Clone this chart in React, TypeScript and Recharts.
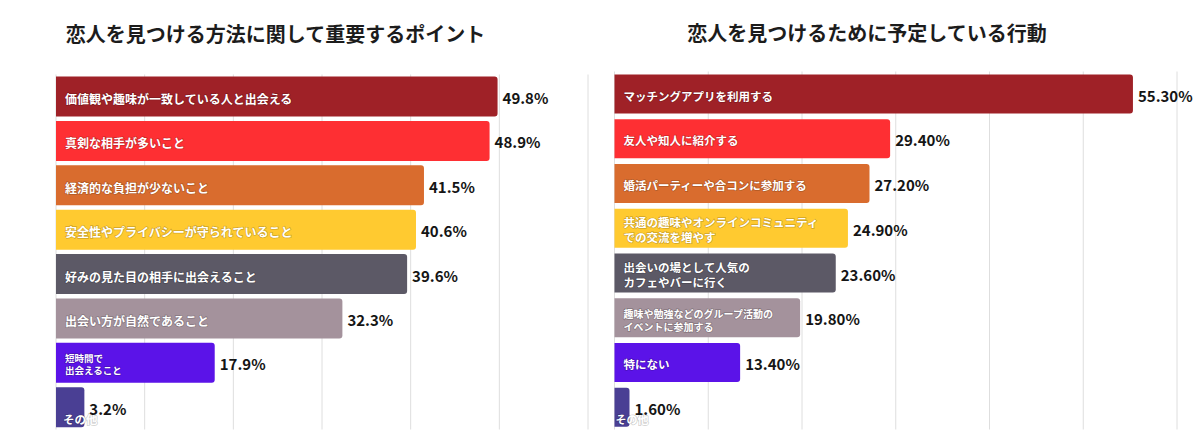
import { BarChart, Bar, XAxis, YAxis, CartesianGrid, Cell, LabelList } from 'recharts';

const leftTitle = '恋人を見つける方法に関して重要するポイント';
const leftCategories = [
  '価値観や趣味が一致している人と出会える',
  '真剣な相手が多いこと',
  '経済的な負担が少ないこと',
  '安全性やプライバシーが守られていること',
  '好みの見た目の相手に出会えること',
  '出会い方が自然であること',
  '短時間で\n出会えること',
  'その他',
];
const leftValues = [49.8, 48.9, 41.5, 40.6, 39.6, 32.3, 17.9, 3.2];

const rightTitle = '恋人を見つけるために予定している行動';
const rightCategories = [
  'マッチングアプリを利用する',
  '友人や知人に紹介する',
  '婚活パーティーや合コンに参加する',
  '共通の趣味やオンラインコミュニティ\nでの交流を増やす',
  '出会いの場として人気の\nカフェやバーに行く',
  '趣味や勉強などのグループ活動の\nイベントに参加する',
  '特にない',
  'その他',
];
const rightValues = [55.3, 29.4, 27.2, 24.9, 23.6, 19.8, 13.4, 1.6];

const gridTicks = [0, 10, 20, 30, 40, 50, 60];

const barColors = ['#9f2127', '#fe2f33', '#d96c2e', '#ffca30', '#5c5966', '#a4929c', '#5b13e8', '#4a3f94'];

// label font sizes (style only, kept apart from the data)
const leftLabelSizes = [12, 12, 12, 12, 12, 12, 9.5, 11.5];
const rightLabelSizes = [11.5, 11.5, 11.5, 11.5, 11.5, 10, 11.5, 11];

const FONT = "'Noto Sans CJK JP', 'Noto Sans', sans-serif";

const makeInsideLabel = (sizes: number[], smallPad: number) => (props: any) => {
  const { x, y, width, height, value, index } = props;
  const fs = sizes[index] ?? 12;
  const lines = String(value).split('\n');
  const longest = Math.max(...lines.map((l) => l.length));
  const fits = longest * fs + 12 < width;
  const common = {
    fill: '#fff',
    fontSize: fs,
    fontWeight: 700,
    stroke: 'rgba(0,0,0,0.2)',
    strokeWidth: 1.5,
    paintOrder: 'stroke' as any,
    dominantBaseline: 'central' as any,
  };
  if (!fits) {
    // label too long for the tiny bar: sits at the bar's bottom edge
    return (
      <text x={x + smallPad} y={y + height - 8} {...common}>
        {lines.join('')}
      </text>
    );
  }
  const cy = y + height / 2;
  const lh = fs * 1.3;
  return (
    <text x={x + 9} {...common}>
      {lines.map((l, i) => (
        <tspan key={i} x={x + 9} y={cy + 1.5 + (i - (lines.length - 1) / 2) * lh}>
          {l}
        </tspan>
      ))}
    </text>
  );
};

const makeValueLabel = (digits: number) => (props: any) => {
  const { x, y, width, height, value } = props;
  return (
    <text
      x={x + width + 5}
      y={y + height / 2 + 1}
      fill="#151515"
      fontSize={15}
      fontWeight={700}
      dominantBaseline="central"
    >
      {`${Number(value).toFixed(digits)}%`}
    </text>
  );
};

type PanelProps = {
  title: string;
  titleCenter: number;
  titleTop: number;
  categories: string[];
  values: number[];
  sizes: number[];
  smallPad: number;
  digits: number;
  left: number;
  margin: { top: number; right: number; bottom: number; left: number };
  barSize: number;
};

const Panel = ({ title, titleCenter, titleTop, categories, values, sizes, smallPad, digits, left, margin, barSize }: PanelProps) => {
  const data = categories.map((name, i) => ({ name, value: values[i] }));
  return (
    <div style={{ position: 'absolute', left, top: 0, width: 600, height: 440 }}>
      <div
        style={{
          position: 'absolute',
          left: titleCenter - 300,
          width: 600,
          top: titleTop,
          textAlign: 'center',
          fontSize: 20,
          fontWeight: 700,
          color: '#1c1c1c',
          whiteSpace: 'nowrap',
        }}
      >
        {title}
      </div>
      <BarChart width={600} height={440} data={data} layout="vertical" margin={margin}>
        <CartesianGrid horizontal={false} stroke="#dedede" />
        <XAxis type="number" domain={[0, 60]} ticks={gridTicks} hide />
        <YAxis type="category" dataKey="name" hide />
        <Bar dataKey="value" barSize={barSize} radius={[0, 3, 3, 0]} isAnimationActive={false}>
          {data.map((d, i) => (
            <Cell key={d.name} fill={barColors[i]} />
          ))}
          <LabelList dataKey="name" content={makeInsideLabel(sizes, smallPad)} />
          <LabelList dataKey="value" content={makeValueLabel(digits)} />
        </Bar>
      </BarChart>
    </div>
  );
};

export default function App() {
  return (
    <div style={{ position: 'absolute', left: 0, top: 0, width: 1200, height: 440, background: '#fff', fontFamily: FONT }}>
      <Panel
        title={leftTitle}
        titleCenter={275.5}
        titleTop={19}
        categories={leftCategories}
        values={leftValues}
        sizes={leftLabelSizes}
        smallPad={7}
        digits={1}
        left={0}
        margin={{ top: 74.5, right: 12, bottom: 10.5, left: 56 }}
        barSize={40}
      />
      <Panel
        title={rightTitle}
        titleCenter={267}
        titleTop={17.5}
        categories={rightCategories}
        values={rightValues}
        sizes={rightLabelSizes}
        smallPad={1}
        digits={2}
        left={600}
        margin={{ top: 71.5, right: 23, bottom: 10.5, left: 14.5 }}
        barSize={39}
      />
    </div>
  );
}
